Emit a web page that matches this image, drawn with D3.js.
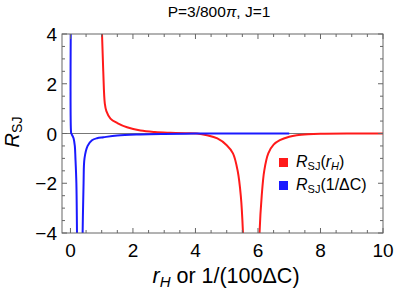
<!DOCTYPE html>
<html lang="en">
<head>
<meta charset="UTF-8">
<title>R_SJ plot</title>
<script src="https://d3js.org/d3.v7.min.js"></script>
<style>
    body { margin: 0; background: white; }
    svg { display: block; font-family: "Liberation Sans", Arial, sans-serif; }
</style>
</head>
<body>
<div id="chart"></div>
<script>
// red curve: R_SJ(r_H), two branches around the divergence near 5.8
var redUpperX = [0.98, 1.01, 1.05, 1.1, 1.15, 1.28, 1.5, 1.81, 2.24, 2.7, 3.2, 3.7, 4.05, 4.37, 4.7, 5.0, 5.2, 5.35, 5.45, 5.52, 5.56];
var redUpperY = [6, 4, 2.5, 1.2, 0.9, 0.6, 0.42, 0.25, 0.12, 0.06, 0.03, 0.01, 0, -0.07, -0.2, -0.47, -0.8, -1.5, -2.5, -4, -6];
var redLowerX = [6.02, 6.05, 6.12, 6.2, 6.33, 6.5, 6.7, 7.0, 7.24, 7.6, 8.0, 9.0, 10.0];
var redLowerY = [-6, -4, -2.5, -1.5, -0.8, -0.45, -0.27, -0.13, -0.07, -0.03, -0.01, 0, 0];

// blue curve: R_SJ(1/ΔC)
var blueLeftX = [0.02, 0.02, 0.03, 0.06, 0.1, 0.14, 0.16, 0.19, 0.21, 0.23];
var blueLeftY = [6, 0.05, 0, -0.08, -0.19, -0.5, -1.0, -2, -4, -6];
var blueRightX = [0.37, 0.39, 0.42, 0.45, 0.55, 0.69, 0.85, 1.06, 1.5, 2.24, 3.0, 4.0, 5.0, 7.0];
var blueRightY = [-6, -4, -2, -1.0, -0.5, -0.27, -0.19, -0.15, -0.08, -0.04, -0.02, -0.005, 0, 0];

var xTicks = [0, 2, 4, 6, 8, 10];
var yTicks = [-4, -2, 0, 2, 4];

var width = 396, height = 293;
var plotLeft = 62, plotRight = 383, plotTop = 34, plotBottom = 233;

var svg = d3.select("#chart").append("svg")
    .attr("width", width)
    .attr("height", height);

var x = d3.scaleLinear().domain([-0.27, 10]).range([plotLeft, plotRight]);
var y = d3.scaleLinear().domain([-4, 4]).range([plotBottom, plotTop]);

svg.append("defs").append("clipPath").attr("id", "clip")
    .append("rect")
    .attr("x", plotLeft).attr("y", plotTop)
    .attr("width", plotRight - plotLeft).attr("height", plotBottom - plotTop);

// zero line
svg.append("line")
    .attr("x1", plotLeft).attr("x2", plotRight)
    .attr("y1", y(0)).attr("y2", y(0))
    .attr("stroke", "#777").attr("stroke-width", 1);

var line = d3.line()
    .x(d => x(d[0]))
    .y(d => y(d[1]))
    .curve(d3.curveCatmullRom.alpha(0.5));

var plot = svg.append("g").attr("clip-path", "url(#clip)");

function drawBranch(xs, ys, color) {
    var pts = xs.map((v, i) => [v, ys[i]]);
    plot.append("path")
        .attr("d", line(pts))
        .attr("fill", "none")
        .attr("stroke", color)
        .attr("stroke-width", 2)
        .attr("stroke-linejoin", "round");
}

drawBranch(redUpperX, redUpperY, "#ff1a1a");
drawBranch(redLowerX, redLowerY, "#ff1a1a");
drawBranch(blueLeftX, blueLeftY, "#1a1aff");
drawBranch(blueRightX, blueRightY, "#1a1aff");

// frame
svg.append("rect")
    .attr("x", plotLeft).attr("y", plotTop)
    .attr("width", plotRight - plotLeft).attr("height", plotBottom - plotTop)
    .attr("fill", "none").attr("stroke", "#666").attr("stroke-width", 1);

// ticks on all four sides
var xMinor = d3.range(0, 10.01, 0.5);
var yMinor = d3.range(-4, 4.01, 0.5);
var tickG = svg.append("g").attr("stroke", "#666").attr("stroke-width", 1);
xMinor.forEach(v => {
    var len = (v % 2 === 0) ? 5 : 3;
    tickG.append("line").attr("x1", x(v)).attr("x2", x(v)).attr("y1", plotBottom).attr("y2", plotBottom - len);
    tickG.append("line").attr("x1", x(v)).attr("x2", x(v)).attr("y1", plotTop).attr("y2", plotTop + len);
});
yMinor.forEach(v => {
    var len = (v % 2 === 0) ? 5 : 3;
    tickG.append("line").attr("x1", plotLeft).attr("x2", plotLeft + len).attr("y1", y(v)).attr("y2", y(v));
    tickG.append("line").attr("x1", plotRight).attr("x2", plotRight - len).attr("y1", y(v)).attr("y2", y(v));
});

// tick labels
svg.append("g").selectAll("text")
    .data(xTicks).enter().append("text")
    .attr("x", d => x(d))
    .attr("y", 257)
    .attr("text-anchor", "middle")
    .style("font-size", "19px")
    .text(d => d);

svg.append("g").selectAll("text")
    .data(yTicks).enter().append("text")
    .attr("x", 57)
    .attr("y", d => y(d) + 7)
    .attr("text-anchor", "end")
    .style("font-size", "19px")
    .text(d => d < 0 ? "\u2212" + Math.abs(d) : d);

// title
var title = svg.append("text")
    .attr("x", 219).attr("y", 17)
    .attr("text-anchor", "middle")
    .style("font-size", "15.5px");
title.append("tspan").text("P=3/800");
title.append("tspan").style("font-style", "italic").text("\u03c0");
title.append("tspan").text(", J=1");

// x axis title
var xt = svg.append("text")
    .attr("x", 226).attr("y", 283)
    .attr("text-anchor", "middle")
    .style("font-size", "21.5px");
xt.append("tspan").style("font-style", "italic").text("r");
xt.append("tspan").style("font-style", "italic").style("font-size", "15px").attr("dy", 4).text("H");
xt.append("tspan").attr("dy", -4).text(" or 1/(100\u0394C)");

// y axis title
var yt = svg.append("text")
    .attr("transform", "translate(19,132) rotate(-90)")
    .attr("text-anchor", "middle")
    .style("font-size", "20px");
yt.append("tspan").style("font-style", "italic").text("R");
yt.append("tspan").style("font-size", "14px").attr("dy", 3).text("SJ");

// legend
var legend = [
    { color: "#ff1a1a", arg: "r", sub: "H", y: 162 },
    { color: "#1a1aff", arg: "1/\u0394C", sub: null, y: 185 }
];
legend.forEach(d => {
    svg.append("rect")
        .attr("x", 279).attr("y", d.y - 4)
        .attr("width", 9).attr("height", 9)
        .attr("fill", d.color);
    var t = svg.append("text")
        .attr("x", 296).attr("y", d.y + 5)
        .style("font-size", "16px");
    t.append("tspan").style("font-style", "italic").text("R");
    t.append("tspan").style("font-size", "11px").attr("dy", 3).text("SJ");
    if (d.sub) {
        t.append("tspan").attr("dy", -3).text("(");
        t.append("tspan").style("font-style", "italic").text(d.arg);
        t.append("tspan").style("font-style", "italic").style("font-size", "11px").attr("dy", 3).text(d.sub);
        t.append("tspan").attr("dy", -3).text(")");
    } else {
        t.append("tspan").attr("dy", -3).text("(" + d.arg + ")");
    }
});
</script>
</body>
</html>
